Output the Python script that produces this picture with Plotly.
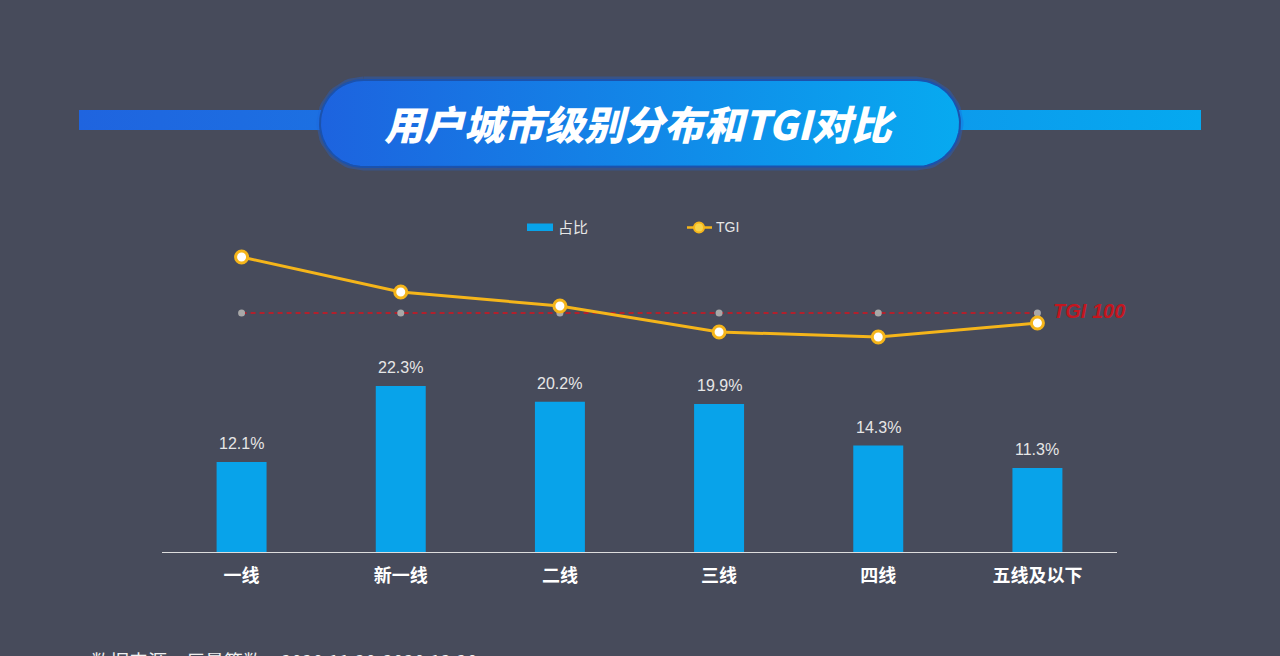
import numpy as np
import plotly.graph_objects as go

# ---------------- data ----------------
categories = ["一线", "新一线", "二线", "三线", "四线", "五线及以下"]
share_pct = [12.1, 22.3, 20.2, 19.9, 14.3, 11.3]
tgi_values = [128, 110.5, 103.5, 90.5, 88, 95]
tgi_base = [100, 100, 100, 100, 100, 100]
title_text = "用户城市级别分布和TGI对比"
legend_names = ["占比", "TGI"]
baseline_label = "TGI 100"
footer_text = "数据来源：巨量算数，2020.11.20-2020.12.20"

# ---------------- styles ----------------
W, H = 1280, 656
BG = "#474b5b"
BAR = "#08a3ea"
GOLD = "#f5b51a"
RED = "#c4161f"
TXT = "#e6e6e6"
CLEAR = "rgba(0,0,0,0)"

# plot area in pixels
PX_L, PX_R, PX_T, PX_B = 162, 1117, 200, 552
BAR_PX_PER = 7.44      # px per percent
TGI_PX_PER = 2.0       # px per TGI unit
TGI_100_Y = 313

def fx(px):
    return px / W

def fy(py):
    return 1 - py / H

bar_top = (PX_B - PX_T) / BAR_PX_PER
tgi_lo = 100 - (PX_B - TGI_100_Y) / TGI_PX_PER
tgi_hi = 100 + (TGI_100_Y - PX_T) / TGI_PX_PER

fig = go.Figure()

# ---------------- title banner (decoration, pixel space) ----------------
def gradient_poly(xs, ys, c0, c1, line_color=None, line_width=0):
    fig.add_trace(go.Scatter(
        x=xs, y=ys, mode="lines", fill="toself",
        fillgradient=dict(type="horizontal", colorscale=[[0, c0], [1, c1]]),
        line=dict(color=line_color or CLEAR, width=line_width),
        xaxis="x3", yaxis="y3", showlegend=False, hoverinfo="skip",
    ))

# side bars
gradient_poly([79, 322, 322, 79, 79], [110, 110, 130, 130, 110], "#1f64df", "#1c70e2")
gradient_poly([958, 1201, 1201, 958, 958], [110, 110, 130, 130, 110], "#0c9bec", "#05a9f0")

# pill
r = 43.5
cy = 123.5
lcx, rcx = 320 + r, 960 - r
t1 = np.linspace(np.pi / 2, 3 * np.pi / 2, 40)
t2 = np.linspace(-np.pi / 2, np.pi / 2, 40)
px = np.concatenate([lcx + r * np.cos(t1), rcx + r * np.cos(t2), [lcx]])
py = np.concatenate([cy - r * np.sin(t1), cy - r * np.sin(t2), [cy - r]])
fig.add_trace(go.Scatter(
    x=px, y=py, mode="lines", line=dict(color="rgba(30,100,220,0.35)", width=7),
    xaxis="x3", yaxis="y3", showlegend=False, hoverinfo="skip",
))
gradient_poly(px, py, "#1d63df", "#07aaf0", line_color="#1b52ad", line_width=2)

# ---------------- chart ----------------
fig.add_trace(go.Bar(
    x=categories, y=share_pct, marker=dict(color=BAR, line=dict(width=0)), width=0.314,
    xaxis="x", yaxis="y", showlegend=False, hoverinfo="x+y",
))

fig.add_trace(go.Scatter(
    x=categories, y=tgi_base, mode="lines+markers",
    line=dict(color="#b2202c", width=2, dash="5px,4px"),
    marker=dict(color="#a8a8a8", size=7),
    xaxis="x", yaxis="y2", showlegend=False, hoverinfo="skip",
))

fig.add_trace(go.Scatter(
    x=categories, y=tgi_values, mode="lines+markers",
    line=dict(color=GOLD, width=3),
    marker=dict(color="white", size=12, line=dict(color=GOLD, width=3)),
    xaxis="x", yaxis="y2", showlegend=False,
))

annotations = [
    dict(x=fx(640), y=fy(123), xref="paper", yref="paper", text="<i>" + title_text + "</i>",
         showarrow=False, font=dict(family="Noto Sans CJK SC", size=40, color="white", weight=900),
         xanchor="center", yanchor="middle"),
]

for c, v in zip(categories, share_pct):
    annotations.append(dict(
        x=c, y=v, xref="x", yref="y", text=f"{v}%", showarrow=False,
        yanchor="bottom", yshift=8,
        font=dict(family="Liberation Sans, Arial", size=16, color=TXT),
    ))

annotations.append(dict(
    x=fx(1051), y=fy(311), xref="paper", yref="paper", text="<b><i>" + baseline_label + "</i></b>",
    showarrow=False, xanchor="left", yanchor="middle",
    font=dict(family="Liberation Sans, Arial", size=20, color=RED),
))

annotations.append(dict(
    x=fx(556), y=fy(227), xref="paper", yref="paper", text=legend_names[0], showarrow=False,
    xanchor="left", yanchor="middle", font=dict(family="Noto Sans CJK SC", size=15, color=TXT),
))
annotations.append(dict(
    x=fx(714), y=fy(227), xref="paper", yref="paper", text=legend_names[1], showarrow=False,
    xanchor="left", yanchor="middle", font=dict(family="Liberation Sans, Arial", size=14, color=TXT),
))

annotations.append(dict(
    x=fx(89), y=fy(645), xref="paper", yref="paper", text=footer_text, showarrow=False,
    xanchor="left", yanchor="top", font=dict(family="Noto Sans CJK SC", size=19, color="#f0f0f0"),
))

shapes = [
    dict(type="rect", xref="paper", yref="paper", x0=fx(527), x1=fx(553), y0=fy(223.5), y1=fy(231),
         fillcolor=BAR, line=dict(width=0)),
    dict(type="line", xref="paper", yref="paper", x0=fx(687), x1=fx(712), y0=fy(227.5), y1=fy(227.5),
         line=dict(color=GOLD, width=2.5)),
    dict(type="circle", xref="paper", yref="paper", x0=fx(694), x1=fx(704), y0=fy(232.5), y1=fy(222.5),
         fillcolor="#f7d34a", line=dict(color=GOLD, width=2)),
]

fig.update_layout(
    width=W, height=H,
    margin=dict(l=0, r=0, t=0, b=0),
    paper_bgcolor=BG, plot_bgcolor=CLEAR,
    showlegend=False,
    annotations=annotations,
    shapes=shapes,
    xaxis=dict(
        domain=[PX_L / W, PX_R / W], range=[-0.5, 5.5], type="category",
        showgrid=False, zeroline=False, showline=True, linecolor="#dddddd", linewidth=1,
        ticks="", ticklabelstandoff=7,
        tickfont=dict(family="Noto Sans CJK SC", size=18, color="white", weight="bold"),
        fixedrange=True,
    ),
    yaxis=dict(
        domain=[1 - PX_B / H, 1 - PX_T / H], range=[0, bar_top],
        visible=False, fixedrange=True,
    ),
    yaxis2=dict(
        overlaying="y", range=[tgi_lo, tgi_hi], visible=False, fixedrange=True,
    ),
    xaxis3=dict(domain=[0, 1], range=[0, W], visible=False, fixedrange=True),
    yaxis3=dict(domain=[0, 1], range=[H, 0], visible=False, fixedrange=True),
)

fig.write_html("out.html")
